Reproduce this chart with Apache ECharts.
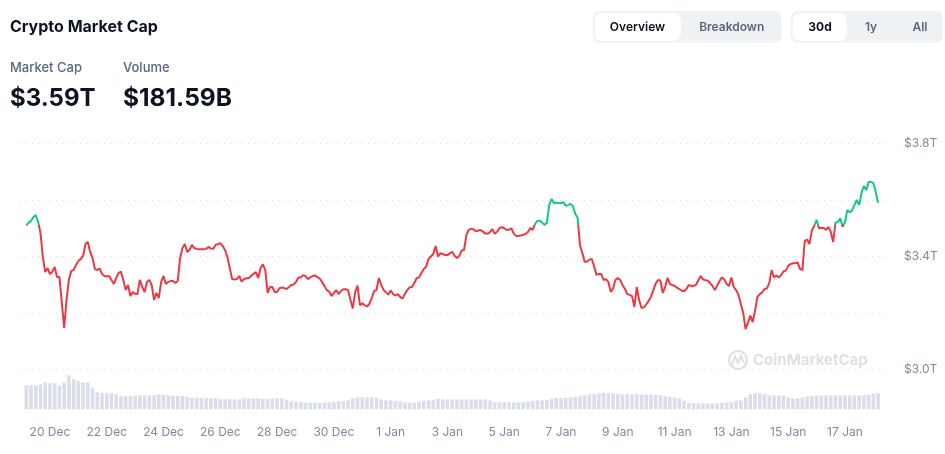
<!DOCTYPE html>
<html><head><meta charset="utf-8">
<script src="https://cdn.jsdelivr.net/npm/echarts@6/dist/echarts.min.js"></script>
<style>html,body{margin:0;padding:0;background:#fff}#c{width:945px;height:454px}</style>
</head><body><div id="c"></div><script>
// first sample 19 Dec 04:00; market cap every 2 h, volume every 4 h
const startUTC = Date.UTC(2024, 11, 19, 4);
const capStepHours = 2;
const volStepHours = 4;
const monthNames = ['Jan','Feb','Mar','Apr','May','Jun','Jul','Aug','Sep','Oct','Nov','Dec'];

// Market cap, $T (2-hour samples)
const marketCap = [
3.510,3.520,3.526,3.540,3.547,3.522,3.483,3.398,3.345,3.359,
3.338,3.346,3.363,3.327,3.327,3.239,3.147,3.246,3.317,3.349,
3.352,3.370,3.384,3.391,3.402,3.444,3.451,3.416,3.395,3.356,
3.352,3.358,3.338,3.331,3.329,3.331,3.317,3.303,3.324,3.342,
3.346,3.317,3.281,3.299,3.260,3.274,3.267,3.267,3.317,3.293,
3.274,3.310,3.317,3.299,3.246,3.271,3.253,3.310,3.331,3.303,
3.310,3.313,3.313,3.306,3.313,3.395,3.430,3.444,3.416,3.423,
3.441,3.430,3.427,3.426,3.426,3.426,3.427,3.434,3.428,3.427,
3.441,3.444,3.447,3.437,3.423,3.398,3.359,3.320,3.319,3.320,
3.331,3.311,3.320,3.323,3.323,3.331,3.338,3.345,3.324,3.359,
3.372,3.352,3.271,3.292,3.292,3.274,3.274,3.288,3.290,3.288,
3.285,3.292,3.299,3.301,3.310,3.326,3.326,3.334,3.331,3.320,
3.326,3.331,3.333,3.327,3.322,3.310,3.296,3.281,3.276,3.260,
3.271,3.281,3.267,3.278,3.284,3.284,3.281,3.246,3.216,3.274,
3.297,3.228,3.234,3.228,3.223,3.232,3.253,3.278,3.281,3.324,
3.299,3.282,3.273,3.265,3.280,3.267,3.262,3.267,3.257,3.251,
3.267,3.281,3.291,3.292,3.306,3.324,3.326,3.342,3.356,3.364,
3.391,3.400,3.409,3.437,3.399,3.412,3.409,3.405,3.405,3.411,
3.417,3.403,3.395,3.402,3.421,3.423,3.476,3.494,3.498,3.496,
3.489,3.492,3.494,3.488,3.481,3.481,3.486,3.497,3.480,3.488,
3.500,3.504,3.500,3.494,3.495,3.500,3.481,3.473,3.473,3.474,
3.477,3.480,3.487,3.501,3.494,3.515,3.526,3.527,3.521,3.512,
3.519,3.582,3.604,3.588,3.591,3.589,3.589,3.593,3.579,3.582,
3.586,3.579,3.551,3.536,3.441,3.412,3.381,3.381,3.389,3.391,
3.365,3.335,3.338,3.338,3.317,3.320,3.310,3.275,3.287,3.317,
3.324,3.317,3.299,3.285,3.267,3.264,3.260,3.221,3.292,3.246,
3.218,3.220,3.230,3.242,3.258,3.281,3.304,3.317,3.315,3.271,
3.292,3.324,3.303,3.299,3.296,3.290,3.285,3.279,3.277,3.285,
3.299,3.296,3.296,3.299,3.315,3.331,3.319,3.316,3.315,3.306,
3.296,3.281,3.297,3.313,3.326,3.319,3.303,3.296,3.326,3.292,
3.281,3.264,3.232,3.200,3.143,3.165,3.191,3.168,3.207,3.257,
3.267,3.273,3.285,3.287,3.306,3.352,3.326,3.333,3.326,3.334,
3.347,3.350,3.367,3.373,3.376,3.376,3.379,3.356,3.352,3.455,
3.460,3.444,3.492,3.508,3.530,3.500,3.502,3.501,3.494,3.505,
3.487,3.451,3.520,3.522,3.535,3.505,3.522,3.565,3.556,3.563,
3.582,3.600,3.582,3.625,3.650,3.635,3.664,3.664,3.660,3.628,
3.590
];

// Volume, $B (4-hour samples)
const volume = [
240,240,240,250,270,260,260,240,270,340,
300,280,270,270,210,170,165,160,160,150,
130,130,130,135,140,140,140,140,150,145,
140,135,135,135,125,115,115,115,115,110,
110,100,100,100,100,100,110,110,110,110,
105,105,110,110,110,95,80,75,70,65,
65,65,65,65,70,75,80,80,90,110,
120,120,120,120,115,100,90,90,85,80,
70,65,65,75,85,90,95,105,100,100,
100,100,100,100,100,100,100,100,90,70,
70,70,70,70,70,70,75,85,90,90,
95,105,115,115,115,120,125,130,140,150,
150,160,165,160,160,155,150,150,150,150,
150,145,150,145,140,130,125,120,110,85,
65,60,60,60,60,60,60,65,70,75,
85,90,120,150,160,160,150,140,140,140,
135,120,110,110,120,130,135,140,140,140,
140,140,135,140,140,140,140,140,145,155,
160
];

const yTicksShown = [3.0, 3.4, 3.8];
const yMin = 3.0, yMax = 3.8;

function makeCategories(n, stepH) {
  const out = [];
  for (let i = 0; i < n; i++) {
    const d = new Date(startUTC + i * stepH * 3600e3);
    out.push(d.getUTCDate() + ' ' + monthNames[d.getUTCMonth()] + ' ' + String(d.getUTCHours()).padStart(2,'0') + ':00');
  }
  return out;
}
const capCategories = makeCategories(marketCap.length, capStepHours);
const volCategories = makeCategories(volume.length, volStepHours);
const firstMidnight = volCategories.findIndex(c => c.endsWith(' 00:00'));
const labelEvery = 2 * 24 / volStepHours;

const threshold = marketCap[0];
const RED = '#ea3943', GREEN = '#16c784';
const GRAY = '#808a9d';
const FONT = 'Inter, "Noto Sans", sans-serif';

const chart = echarts.init(document.getElementById('c'), null, {renderer: 'canvas'});

const dataLeft = 26.3, dataRight = 945 - 878.1;
const gridTop = 143.5, gridH = 226;

// hard colour switch at the opening value (green above, red at/below)
const tSplit = (yMax - threshold) / (yMax - yMin);
const lineColor = new echarts.graphic.LinearGradient(0, gridTop, 0, gridTop + gridH, [
  {offset: 0, color: GREEN}, {offset: tSplit, color: GREEN},
  {offset: tSplit, color: RED}, {offset: 1, color: RED}
], true);

function btn(x, y, w, h, fill) {
  return {type: 'rect', shape: {x, y, width: w, height: h, r: 7}, style: {fill}, silent: true};
}
function txt(x, y, text, size, weight, color, align) {
  return {type: 'text', x, y, style: {text, font: `${weight} ${size}px ${FONT}`, fill: color, align: align || 'left', verticalAlign: 'middle'}, silent: true};
}

chart.setOption({
  animation: false,
  backgroundColor: '#ffffff',
  grid: [
    {left: 20, right: 56, top: gridTop, height: gridH},
    {left: dataLeft, right: dataRight, top: gridTop, height: gridH},
    {left: dataLeft, right: dataRight, top: 372.3, bottom: 44.7}
  ],
  xAxis: [
    {gridIndex: 0, type: 'value', min: 0, max: 1, show: false},
    {gridIndex: 1, type: 'category', data: capCategories, boundaryGap: false, show: false},
    {gridIndex: 2, type: 'category', data: volCategories, boundaryGap: false,
      axisLine: {show: false}, axisTick: {show: false},
      axisLabel: {
        interval: (idx) => idx >= firstMidnight && (idx - firstMidnight) % labelEvery === 0,
        formatter: (v) => v.split(' ').slice(0, 2).join(' '),
        color: GRAY, fontSize: 12, fontFamily: FONT, margin: 17
      }}
  ],
  yAxis: [
    {gridIndex: 0, type: 'value', position: 'right', min: yMin, max: yMax, interval: 0.2,
      axisLine: {show: false}, axisTick: {show: false},
      axisLabel: {
        margin: 15, color: GRAY, fontSize: 12, fontFamily: FONT,
        formatter: (v) => yTicksShown.some(t => Math.abs(t - v) < 1e-6) ? '$' + v.toFixed(1) + 'T' : ''
      },
      splitLine: {show: true, lineStyle: {color: '#d5d9e0', type: [1, 5], width: 1}}},
    {gridIndex: 1, type: 'value', min: yMin, max: yMax, show: false},
    {gridIndex: 2, type: 'value', min: 0, max: 370, show: false}
  ],
  series: [
    {type: 'line', xAxisIndex: 1, yAxisIndex: 1, data: marketCap, showSymbol: false,
      lineStyle: {width: 2, color: lineColor}, itemStyle: {color: RED}, z: 5},
    {type: 'bar', xAxisIndex: 2, yAxisIndex: 2, data: volume, barWidth: 3.6,
      itemStyle: {color: '#dadee8'}, z: 2}
  ],
  graphic: [
    txt(10, 27, 'Crypto Market Cap', 16, 700, '#0d1421'),
    txt(10, 68, 'Market Cap', 13, 500, '#58667e'),
    txt(123, 68, 'Volume', 13, 500, '#58667e'),
    txt(10, 98.5, '$3.59T', 24, 700, '#0d1421'),
    txt(123, 98.5, '$181.59B', 24.5, 700, '#0d1421'),
    btn(592.7, 11, 189, 31.7, '#eff2f5'),
    btn(594.7, 13, 86, 27.7, '#ffffff'),
    txt(637.5, 27, 'Overview', 12, 600, '#0d1421', 'center'),
    txt(731.7, 27, 'Breakdown', 12, 600, '#58667e', 'center'),
    btn(790.7, 11, 152, 31.7, '#eff2f5'),
    btn(792.7, 13, 54, 27.7, '#ffffff'),
    txt(820, 27, '30d', 12, 700, '#0d1421', 'center'),
    txt(871, 27, '1y', 12, 600, '#58667e', 'center'),
    txt(920, 27, 'All', 12, 600, '#58667e', 'center'),
    {type: 'circle', shape: {cx: 738, cy: 360, r: 9}, style: {fill: 'none', stroke: '#dde0e5', lineWidth: 2.2}, silent: true},
    {type: 'polyline', shape: {points: [[732, 365], [735, 356], [738, 363], [741, 356], [744, 363]]}, style: {fill: 'none', stroke: '#dde0e5', lineWidth: 2}, silent: true},
    txt(753, 360.5, 'CoinMarketCap', 15, 700, '#dde0e5')
  ]
});
</script></body></html>
